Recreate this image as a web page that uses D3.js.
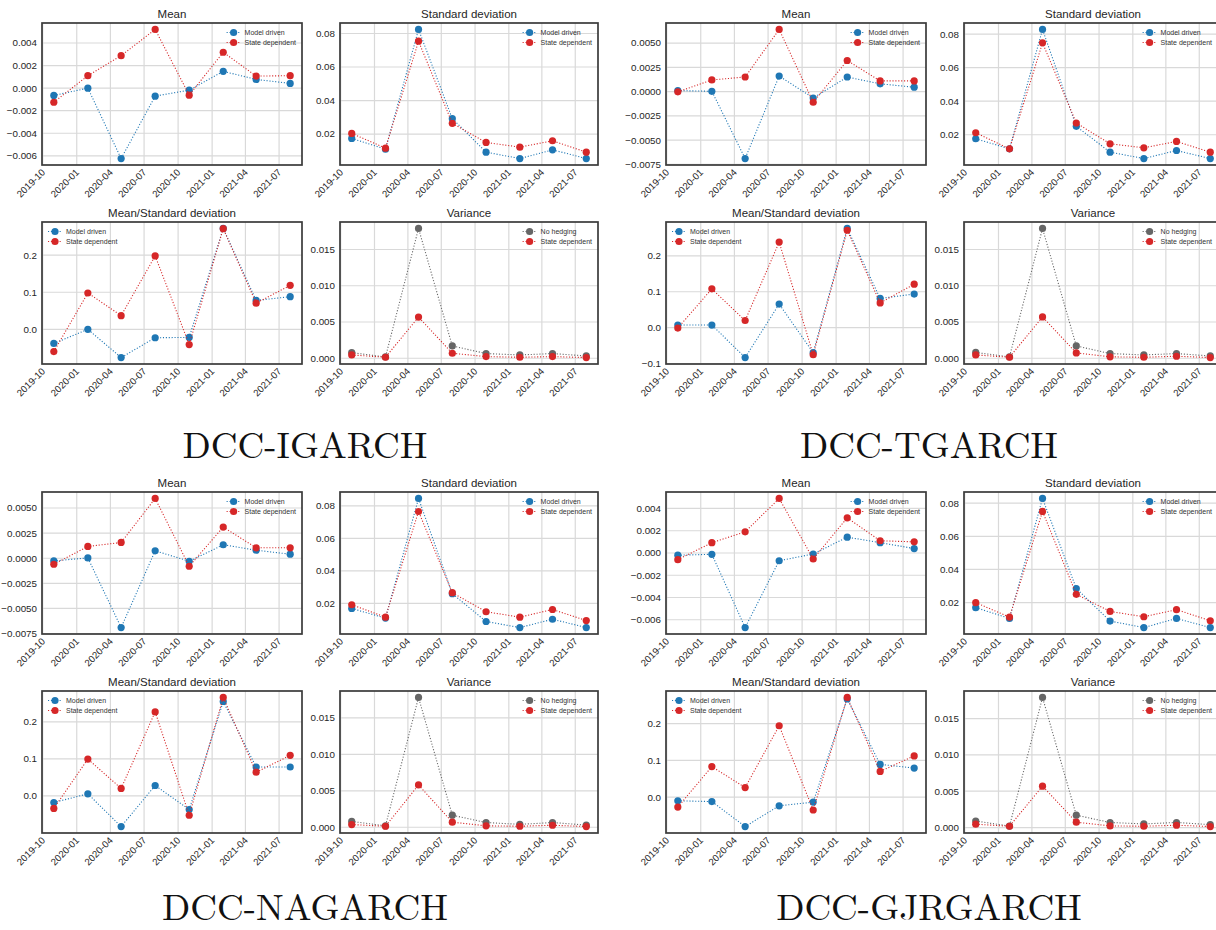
<!DOCTYPE html>
<html><head><meta charset="utf-8">
<script src="https://cdn.jsdelivr.net/npm/d3@7"></script>
<style>body{margin:0;background:#fff}svg{display:block}</style>
</head><body><svg id="c" width="1216" height="930"></svg>
<script>
// ---------- data ----------
const dates = ["2019-10-31","2020-01-31","2020-04-30","2020-07-31","2020-10-31","2021-01-31","2021-04-30","2021-07-31"];
const xTickLabels = ["2019-10","2020-01","2020-04","2020-07","2020-10","2021-01","2021-04","2021-07"];
const models = ["DCC-IGARCH","DCC-TGARCH","DCC-NAGARCH","DCC-GJRGARCH"];
const panelTitles = ["Mean","Standard deviation","Mean/Standard deviation","Variance"];
const hedgeNames = ["Model driven","State dependent"];
const varianceNames = ["No hedging","State dependent"];

// DCC-IGARCH
const igMeanModel  = [-0.00065, 0.0, -0.00624, -0.00071, -0.00018, 0.00149, 0.00077, 0.00042];
const igMeanState  = [-0.00125, 0.0011, 0.00288, 0.0052, -0.00062, 0.00318, 0.00107, 0.0011];
const igStdModel   = [0.0174, 0.011, 0.0824, 0.0292, 0.0092, 0.0054, 0.0106, 0.0054];
const igStdState   = [0.0204, 0.0116, 0.0754, 0.0264, 0.015, 0.0122, 0.016, 0.0092];
const igRatioModel = [-0.038, 0.0, -0.076, -0.0226, -0.0217, 0.272, 0.078, 0.088];
const igRatioState = [-0.06, 0.098, 0.037, 0.198, -0.041, 0.2715, 0.0706, 0.1186];
const igVarNoHedge = [0.00078, 0.00018, 0.0179, 0.0017, 0.00065, 0.00046, 0.00065, 0.00032];
const igVarState   = [0.00046, 0.00014, 0.00568, 0.00069, 0.00023, 0.00014, 0.00023, 0.0001];
// DCC-TGARCH
const tgMeanModel  = [0.0001, 0.00003, -0.0069, 0.0016, -0.00066, 0.0015, 0.0008, 0.00045];
const tgMeanState  = [-0.00003, 0.0012, 0.0015, 0.0064, -0.0011, 0.0032, 0.0011, 0.0011];
const tgStdModel   = [0.0176, 0.0116, 0.0828, 0.025, 0.0096, 0.0058, 0.0106, 0.0058];
const tgStdState   = [0.0212, 0.0116, 0.0748, 0.027, 0.0146, 0.0122, 0.016, 0.0096];
const tgRatioModel = [0.0074, 0.0074, -0.083, 0.0657, -0.0694, 0.276, 0.0815, 0.0935];
const tgRatioState = [-0.001, 0.108, 0.02, 0.238, -0.075, 0.271, 0.069, 0.121];
const tgVarNoHedge = [0.0008, 0.0002, 0.0179, 0.0017, 0.00065, 0.00046, 0.00065, 0.00032];
const tgVarState   = [0.00046, 0.00014, 0.0057, 0.00074, 0.0002, 0.00014, 0.00028, 0.0001];
// DCC-NAGARCH
const naMeanModel  = [-0.00027, 0.00003, -0.0069, 0.00074, -0.0003, 0.00134, 0.0008, 0.0004];
const naMeanState  = [-0.0006, 0.00117, 0.00157, 0.00595, -0.0008, 0.0031, 0.00104, 0.00104];
const naStdModel   = [0.0169, 0.011, 0.0845, 0.026, 0.0089, 0.0052, 0.0103, 0.0052];
const naStdState   = [0.0192, 0.0116, 0.0765, 0.0266, 0.0149, 0.0116, 0.0163, 0.0095];
const naRatioModel = [-0.018, 0.0054, -0.083, 0.028, -0.037, 0.255, 0.078, 0.078];
const naRatioState = [-0.034, 0.0995, 0.02, 0.227, -0.0525, 0.266, 0.064, 0.1095];
const naVarNoHedge = [0.0008, 0.0002, 0.0178, 0.00166, 0.00065, 0.0004, 0.00065, 0.0003];
const naVarState   = [0.00037, 0.00014, 0.0058, 0.0007, 0.0002, 0.00014, 0.00028, 0.0001];
// DCC-GJRGARCH
const gjMeanModel  = [-0.0002, -0.00012, -0.0067, -0.0007, -0.00009, 0.00142, 0.00093, 0.0004];
const gjMeanState  = [-0.0006, 0.00093, 0.0019, 0.0049, -0.00054, 0.00316, 0.0011, 0.001];
const gjStdModel   = [0.017, 0.0105, 0.0828, 0.0285, 0.0089, 0.005, 0.0105, 0.005];
const gjStdState   = [0.02, 0.0113, 0.075, 0.025, 0.0147, 0.0115, 0.0158, 0.0091];
const gjRatioModel = [-0.01, -0.012, -0.08, -0.0236, -0.0136, 0.267, 0.089, 0.079];
const gjRatioState = [-0.027, 0.083, 0.026, 0.194, -0.035, 0.271, 0.07, 0.112];
const gjVarNoHedge = [0.0009, 0.0002, 0.0179, 0.0017, 0.0007, 0.0005, 0.0007, 0.0004];
const gjVarState   = [0.00046, 0.00018, 0.0057, 0.00074, 0.00023, 0.00018, 0.00032, 0.00014];

// y tick values
const meanTicks3 = [-0.006, -0.004, -0.002, 0, 0.002, 0.004];
const meanTicks4 = [-0.0075, -0.005, -0.0025, 0, 0.0025, 0.005];
const stdTicks   = [0.02, 0.04, 0.06, 0.08];
const ratioTicks = [0, 0.1, 0.2];
const ratioTicksNeg = [-0.1, 0, 0.1, 0.2];
const varTicks   = [0, 0.005, 0.01, 0.015];

// ---------- assembly ----------
const COL_BLUE = "#1f77b4", COL_RED = "#d62728", COL_GRAY = "#666666";
const blocks = [
  {name: models[0], bx: 0,   by: 0,   mean:[igMeanModel,igMeanState], std:[igStdModel,igStdState], ratio:[igRatioModel,igRatioState], vari:[igVarNoHedge,igVarState], meanT:meanTicks3, meanF:".3f", ratioT:ratioTicks},
  {name: models[1], bx: 624, by: 0,   mean:[tgMeanModel,tgMeanState], std:[tgStdModel,tgStdState], ratio:[tgRatioModel,tgRatioState], vari:[tgVarNoHedge,tgVarState], meanT:meanTicks4, meanF:".4f", ratioT:ratioTicksNeg},
  {name: models[2], bx: 0,   by: 469, mean:[naMeanModel,naMeanState], std:[naStdModel,naStdState], ratio:[naRatioModel,naRatioState], vari:[naVarNoHedge,naVarState], meanT:meanTicks4, meanF:".4f", ratioT:ratioTicks},
  {name: models[3], bx: 624, by: 469, mean:[gjMeanModel,gjMeanState], std:[gjStdModel,gjStdState], ratio:[gjRatioModel,gjRatioState], vari:[gjVarNoHedge,gjVarState], meanT:meanTicks3, meanF:".3f", ratioT:ratioTicks}
];

const svg = d3.select("#c");
const parse = d3.utcParse("%Y-%m-%d");
const xDates = dates.map(parse);
const xTicks = xTickLabels.map(s => parse(s + "-01"));
const t0 = +xDates[0], t1 = +xDates[xDates.length-1], tr = t1 - t0;

const FONT = "'Liberation Sans', Arial, sans-serif";
const PX = [[42, 302], [340, 598]];
const PY = [[23, 165], [222, 364]];

function drawPanel(g, bx, x0, x1, y0, y1, title, series, names, colors, yTicks, yFmt, legendLeft) {
  const x = d3.scaleUtc().domain([new Date(t0 - 0.05*tr), new Date(t1 + 0.05*tr)]).range([x0, x1]);
  const all = series.flat();
  const mn = d3.min(all), mx = d3.max(all), r = mx - mn;
  const y = d3.scaleLinear().domain([mn - 0.05*r, mx + 0.05*r]).range([y1, y0]);
  const p = g.append("g");
  // grid
  const yT = yTicks.filter(v => y(v) >= y0 - 1 && y(v) <= y1 + 1);
  p.append("g").selectAll("line").data(yT).join("line")
    .attr("x1", x0).attr("x2", x1).attr("y1", d => y(d)).attr("y2", d => y(d))
    .attr("stroke", "#d9d9d9").attr("stroke-width", 1.2);
  p.append("g").selectAll("line").data(xTicks).join("line")
    .attr("x1", d => x(d)).attr("x2", d => x(d)).attr("y1", y0).attr("y2", y1)
    .attr("stroke", "#d9d9d9").attr("stroke-width", 1.2);
  // y tick labels
  const fmt = d3.format(yFmt);
  p.append("g").selectAll("text").data(yT).join("text")
    .attr("x", x0 - 5).attr("y", d => y(d)).attr("dy", "0.35em")
    .attr("text-anchor", "end").attr("font-family", FONT).attr("font-size", 9.8).attr("fill", "#262626")
    .text(d => fmt(d));
  // x tick labels
  p.append("g").selectAll("text").data(xTicks).join("text")
    .attr("transform", (d) => `translate(${x(d) + 3},${y1 + 8}) rotate(-45)`)
    .attr("text-anchor", "end").attr("font-family", FONT).attr("font-size", 9.6).attr("fill", "#262626")
    .text((d, i) => xTickLabels[i]);
  // title
  p.append("text").attr("x", (x0 + x1) / 2).attr("y", y0 - 5).attr("text-anchor", "middle")
    .attr("font-family", FONT).attr("font-size", 11.5).attr("fill", "#262626").text(title);
  // series
  const line = d3.line().x((d, i) => x(xDates[i])).y(d => y(d));
  series.forEach((s, k) => {
    p.append("path").attr("d", line(s)).attr("fill", "none").attr("stroke", colors[k])
      .attr("stroke-width", 1.1).attr("stroke-dasharray", "1.1,1.8");
    p.append("g").selectAll("circle").data(s).join("circle")
      .attr("cx", (d, i) => x(xDates[i])).attr("cy", d => y(d)).attr("r", 3.6).attr("fill", colors[k]);
  });
  // spines
  p.append("rect").attr("x", x0).attr("y", y0).attr("width", x1 - x0).attr("height", y1 - y0)
    .attr("fill", "none").attr("stroke", "#3a3a3a").attr("stroke-width", 1.7);
  // legend
  const lg = p.append("g");
  const texts = names.map((nm, k) => lg.append("text").attr("y", y0 + 9.5 + k * 10).attr("dy", "0.35em")
      .attr("font-family", FONT).attr("font-size", 7).attr("fill", "#333").text(nm));
  const maxW = d3.max(texts, t => t.node().getComputedTextLength());
  const rightLimit = Math.min(x1 - 6, 1212 - bx);
  const lx = legendLeft ? x0 + 24 : rightLimit - maxW;
  names.forEach((nm, k) => {
    const ly = y0 + 9.5 + k * 10;
    texts[k].attr("x", lx);
    lg.append("line").attr("x1", lx - 18).attr("x2", lx - 4).attr("y1", ly).attr("y2", ly)
      .attr("stroke", colors[k]).attr("stroke-width", 1.1).attr("stroke-dasharray", "1.1,1.8");
    lg.append("circle").attr("cx", lx - 11).attr("cy", ly).attr("r", 3.6).attr("fill", colors[k]);
  });
}

blocks.forEach(b => {
  const g = svg.append("g").attr("transform", `translate(${b.bx},${b.by})`);
  drawPanel(g, b.bx, PX[0][0], PX[0][1], PY[0][0], PY[0][1], panelTitles[0], b.mean, hedgeNames, [COL_BLUE, COL_RED], b.meanT, b.meanF, false);
  drawPanel(g, b.bx, PX[1][0], PX[1][1], PY[0][0], PY[0][1], panelTitles[1], b.std, hedgeNames, [COL_BLUE, COL_RED], stdTicks, ".2f", false);
  drawPanel(g, b.bx, PX[0][0], PX[0][1], PY[1][0], PY[1][1], panelTitles[2], b.ratio, hedgeNames, [COL_BLUE, COL_RED], b.ratioT, ".1f", true);
  drawPanel(g, b.bx, PX[1][0], PX[1][1], PY[1][0], PY[1][1], panelTitles[3], b.vari, varianceNames, [COL_GRAY, COL_RED], varTicks, ".3f", false);
  g.append("text").attr("x", 305).attr("y", Math.min(458, 920 - b.by)).attr("text-anchor", "middle")
    .attr("font-family", "'Latin Modern Roman','CMU Serif','Liberation Serif','Times New Roman',serif")
    .attr("font-size", 37).attr("fill", "#111").text(b.name);
});
</script></body></html>
